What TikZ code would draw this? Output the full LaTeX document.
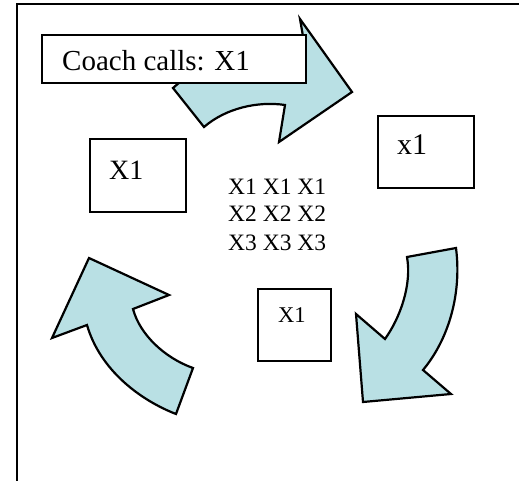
\documentclass[tikz,border=0pt]{standalone}
\usepackage{fontspec}
\setmainfont{Liberation Serif}
\definecolor{arrowfill}{RGB}{185,224,228}
\tikzset{
  outline/.style={draw=black, line width=2.2pt, line join=miter},
  bentarrow/.style={outline, fill=arrowfill},
  tagbox/.style={draw=black, line width=2pt, fill=white, inner sep=0pt, anchor=north west},
  tagtext/.style={inner sep=0pt, anchor=base west},
}
\newcommand{\fsz}[1]{\fontsize{#1}{#1}\selectfont}
\begin{document}
\begin{tikzpicture}[x=1pt, y=-1pt]
  \useasboundingbox (0,0) rectangle (519,481);
  % page frame (top and left edges)
  \draw[line width=2pt] (519,4) -- (17,4) -- (17,481);

  % bent arrow, top
  \path[bentarrow] (173,88) .. controls (210,55) and (260,40) .. (304,42)
    -- (300,19) -- (352,92) -- (279,142) -- (285,105)
    .. controls (258,101) and (226,108) .. (204,127) -- cycle;

  % bent arrow, right
  \path[bentarrow] (407,257) -- (456,248)
    .. controls (462,295) and (448,340) .. (423,370)
    -- (451,394) -- (363,402) -- (356,314) -- (385,339)
    .. controls (400,318) and (412,285) .. (407,257) -- cycle;

  % bent arrow, left
  \path[bentarrow] (193,368) -- (176,414)
    .. controls (140,400) and (100,370) .. (87,325)
    -- (52,338) -- (89,258) -- (169,295) -- (133,309)
    .. controls (140,335) and (165,358) .. (193,368) -- cycle;

  % title box
  \node[tagbox, minimum width=264pt, minimum height=48pt] (coach) at (41,34) {};
  \node[tagtext, font=\fsz{29}] (coachlbl) at (62,71) {Coach calls: X1};

  % left box
  \node[tagbox, minimum width=96pt, minimum height=73pt] (leftbox) at (89,138) {};
  \node[tagtext, font=\fsz{28}] (leftlbl) at (109,180) {X1};

  % right box
  \node[tagbox, minimum width=96pt, minimum height=72pt] (rightbox) at (377,115) {};
  \node[tagtext, font=\fsz{30}] (rightlbl) at (397,155) {x1};

  % bottom box
  \node[tagbox, minimum width=73pt, minimum height=72pt] (smallbox) at (257,288) {};
  \node[tagtext, font=\fsz{22.5}] (smalllbl) at (278,322) {X1};

  % centre grid of calls
  \node[tagtext, font=\fsz{23.5}] (row1) at (228,195) {X1 X1 X1};
  \node[tagtext, font=\fsz{23.5}] (row2) at (228,222) {X2 X2 X2};
  \node[tagtext, font=\fsz{23.5}] (row3) at (228,250) {X3 X3 X3};
\end{tikzpicture}
\end{document}
